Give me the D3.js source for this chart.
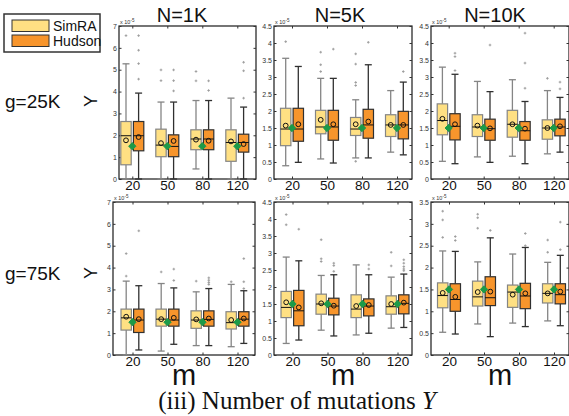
<!DOCTYPE html>
<html lang="en">
<head>
<meta charset="UTF-8">
<title>Number of mutations Y</title>
<script src="https://cdn.jsdelivr.net/npm/d3@7"></script>
<style>
  body { margin: 0; background: #fff; }
  svg { display: block; }
</style>
</head>
<body>
<script>

// categories and labels
var cats = ["20", "50", "80", "120"];
var colTitles = ["N=1K", "N=5K", "N=10K"];
var rowTitles = ["g=25K", "g=75K"];
var yMaxes = [[7, 4.5, 4.5], [7, 4.5, 3.5]];
var trueY = 1.5;   // green diamond

// box stats: [whiskerLow, q1, median, q3, whiskerHigh, mean] for m = 20, 50, 80, 120
var simraG25N1K  = [[0, 0.65, 1.98, 2.63, 5.27, 1.77], [0, 1.02, 1.55, 2.28, 3.52, 1.64], [0.46, 1.34, 1.83, 2.25, 3.59, 1.80], [0, 0.81, 1.67, 2.25, 3.70, 1.72]];
var hudsonG25N1K = [[0, 1.29, 1.98, 2.63, 3.93, 1.92], [0, 1.02, 1.49, 2.02, 3.52, 1.74], [0, 1.34, 1.83, 2.25, 3.59, 1.75], [0, 1.23, 1.67, 2.05, 3.29, 1.60]];
var simraG25N5K  = [[0.39, 0.98, 1.47, 2.08, 3.55, 1.57], [0.59, 1.33, 1.53, 2.02, 2.96, 1.74], [0.62, 1.28, 1.47, 1.81, 2.33, 1.61], [0.79, 1.25, 1.59, 1.89, 2.60, 1.59]];
var hudsonG25N5K = [[0.49, 1.11, 1.47, 2.08, 3.31, 1.61], [0.47, 1.14, 1.53, 2.02, 2.96, 1.61], [0.62, 1.20, 1.59, 2.05, 3.36, 1.69], [0.71, 1.18, 1.59, 1.99, 2.85, 1.59]];
var simraG25N10K  = [[0.52, 1.30, 1.72, 2.21, 3.29, 1.77], [0.65, 1.25, 1.53, 1.89, 2.87, 1.57], [0.67, 1.23, 1.61, 2.02, 2.92, 1.61], [0.74, 1.17, 1.50, 1.74, 2.60, 1.50]];
var hudsonG25N10K = [[0.45, 1.15, 1.55, 1.92, 3.08, 1.61], [0.49, 1.14, 1.48, 1.76, 2.57, 1.49], [0.45, 1.14, 1.42, 1.69, 2.28, 1.48], [0.79, 1.27, 1.53, 1.76, 2.40, 1.55]];
var simraG75N1K  = [[0, 1.14, 1.70, 2.10, 3.38, 1.75], [0.18, 1.32, 1.64, 2.10, 3.27, 1.64], [0.43, 1.22, 1.60, 2.02, 2.89, 1.63], [0.38, 1.19, 1.48, 1.98, 3.23, 1.60]];
var hudsonG75N1K = [[0.23, 1.03, 1.60, 2.10, 3.17, 1.64], [0.49, 1.32, 1.60, 2.10, 3.07, 1.70], [0.43, 1.32, 1.63, 2.02, 3.04, 1.67], [0.53, 1.32, 1.64, 1.98, 2.94, 1.67]];
var simraG75N5K  = [[0.34, 1.10, 1.40, 1.87, 2.88, 1.55], [0.73, 1.20, 1.50, 1.79, 2.34, 1.52], [0.59, 1.10, 1.35, 1.77, 2.65, 1.44], [0.79, 1.20, 1.42, 1.74, 2.29, 1.50]];
var hudsonG75N5K = [[0.44, 0.86, 1.30, 1.90, 2.77, 1.40], [0.56, 1.18, 1.44, 1.67, 2.36, 1.45], [0.64, 1.15, 1.44, 1.65, 2.36, 1.47], [0.81, 1.21, 1.52, 1.77, 2.38, 1.54]];
var simraG75N10K  = [[0.52, 1.08, 1.36, 1.65, 2.38, 1.42], [0.71, 1.12, 1.33, 1.69, 2.13, 1.44], [0.73, 1.09, 1.44, 1.60, 2.31, 1.38], [0.78, 1.19, 1.41, 1.63, 2.12, 1.41]];
var hudsonG75N10K = [[0.48, 1.00, 1.27, 1.63, 2.37, 1.33], [0.42, 1.13, 1.31, 1.79, 2.68, 1.45], [0.65, 1.06, 1.35, 1.64, 2.46, 1.41], [0.67, 1.17, 1.38, 1.63, 2.28, 1.45]];

// outliers for m = 20, 50, 80, 120
var simraOutG25N1K  = [[6.56], [4.99, 4.50], [4.92, 4.49], []];
var hudsonOutG25N1K = [[6.56, 5.89, 5.28, 4.57], [4.99, 4.50, 4.03], [4.49, 4.05], [5.34, 4.95, 3.70]];
var simraOutG25N5K  = [[4.04], [3.73, 3.36, 3.16], [3.68, 3.38, 2.84, 2.75, 0.52], []];
var hudsonOutG25N5K = [[], [3.82], [4.02], [3.16]];
var simraOutG25N10K  = [[], [], [], [2.96]];
var hudsonOutG25N10K = [[3.70, 3.60, 3.19], [3.94], [4.29, 3.41, 2.67], [2.85, 2.65]];
var simraOutG75N1K  = [[4.64, 3.61], [3.80], [3.38], [3.35]];
var hudsonOutG75N1K = [[5.68], [3.93, 3.41], [3.53, 3.42, 3.32, 3.23], [4.41, 3.35, 3.04]];
var simraOutG75N5K  = [[4.13, 3.83], [3.39, 2.83, 2.75], [], [3.02, 2.62]];
var hudsonOutG75N5K = [[3.70], [2.70, 2.63, 2.46], [2.65, 2.53], [2.80, 2.70, 2.60, 2.53, 2.48]];
var simraOutG75N10K  = [[3.29, 3.09, 2.69], [3.22, 3.14, 2.90], [], [2.63, 2.35]];
var hudsonOutG75N10K = [[2.71, 2.62], [2.85], [2.78, 2.50], [3.04, 2.41]];

var simraStats = [[simraG25N1K, simraG25N5K, simraG25N10K], [simraG75N1K, simraG75N5K, simraG75N10K]];
var hudsonStats = [[hudsonG25N1K, hudsonG25N5K, hudsonG25N10K], [hudsonG75N1K, hudsonG75N5K, hudsonG75N10K]];
var simraOut = [[simraOutG25N1K, simraOutG25N5K, simraOutG25N10K], [simraOutG75N1K, simraOutG75N5K, simraOutG75N10K]];
var hudsonOut = [[hudsonOutG25N1K, hudsonOutG25N5K, hudsonOutG25N10K], [hudsonOutG75N1K, hudsonOutG75N5K, hudsonOutG75N10K]];

// panel frames (pixels) and first category position
var frames = [
    [{x0: 119, x1: 256, y0: 26, y1: 179, c0: 132.3}, {x0: 274, x1: 412, y0: 26, y1: 179, c0: 292}, {x0: 431, x1: 569, y0: 26, y1: 179, c0: 448.7}],
    [{x0: 113, x1: 255, y0: 202, y1: 355, c0: 132.5}, {x0: 274, x1: 412, y0: 202, y1: 355, c0: 292.5}, {x0: 431, x1: 569, y0: 202, y1: 355, c0: 449}]
];
var catStep = 35;

var width = 569;
var height = 416;

var simraFill = "#ffe083", simraLine = "#858585";
var hudsonFill = "#f7952c", hudsonLine = "#303030";
var green = "#1c9a48";
var sans = "Liberation Sans, Arial, sans-serif";

var svg = d3.select("body")
    .append("svg")
    .attr("width", width)
    .attr("height", height);

svg.append("rect").attr("width", width).attr("height", height).attr("fill", "#fff");

function drawBoxes(g, x, y, stats, outs, dx, fill, line) {
    var bw = 10.4, cap = 3.5;
    cats.forEach(function (c, i) {
        var s = stats[i];
        var cx = x(c) + dx;
        var b = g.append("g");
        // whiskers
        b.append("line").attr("x1", cx).attr("x2", cx).attr("y1", y(s[0])).attr("y2", y(s[1]))
            .attr("stroke", line).attr("stroke-width", 1.3);
        b.append("line").attr("x1", cx).attr("x2", cx).attr("y1", y(s[3])).attr("y2", y(s[4]))
            .attr("stroke", line).attr("stroke-width", 1.3);
        b.append("line").attr("x1", cx - cap).attr("x2", cx + cap).attr("y1", y(s[4])).attr("y2", y(s[4]))
            .attr("stroke", line).attr("stroke-width", 1.3);
        b.append("line").attr("x1", cx - cap).attr("x2", cx + cap).attr("y1", y(s[0])).attr("y2", y(s[0]))
            .attr("stroke", line).attr("stroke-width", 1.3);
        // box
        b.append("rect")
            .attr("x", cx - bw / 2).attr("width", bw)
            .attr("y", y(s[3])).attr("height", y(s[1]) - y(s[3]))
            .attr("fill", fill).attr("stroke", line).attr("stroke-width", 1.2);
        // median
        b.append("line").attr("x1", cx - bw / 2).attr("x2", cx + bw / 2).attr("y1", y(s[2])).attr("y2", y(s[2]))
            .attr("stroke", "#111").attr("stroke-width", 1);
        // mean
        b.append("circle").attr("cx", cx).attr("cy", y(s[5])).attr("r", 2.4)
            .attr("fill", "none").attr("stroke", "#111").attr("stroke-width", 1);
        // outliers
        b.selectAll("path.out")
            .data(outs[i])
            .enter()
            .append("path")
            .attr("class", "out")
            .attr("d", function (v) {
                var py = y(v);
                return "M" + (cx - 1.3) + "," + py + "h2.6M" + cx + "," + (py - 1.3) + "v2.6";
            })
            .attr("stroke", "#9a9a9a").attr("stroke-width", 0.9);
    });
}

frames.forEach(function (row, r) {
    row.forEach(function (f, c) {
        var x = d3.scalePoint().domain(cats).range([f.c0, f.c0 + catStep * 3]);
        var y = d3.scaleLinear().domain([0, yMaxes[r][c]]).range([f.y1, f.y0]);
        var ticks = d3.range(0, yMaxes[r][c] + 0.001, c === 0 ? 1 : 0.5);

        var g = svg.append("g");

        // frame
        g.append("rect")
            .attr("x", f.x0).attr("y", f.y0)
            .attr("width", f.x1 - f.x0).attr("height", f.y1 - f.y0)
            .attr("fill", "#fff").attr("stroke", "#1a1a1a").attr("stroke-width", 1.2);

        // left axis with labels
        var ya = g.append("g").attr("transform", "translate(" + f.x0 + ",0)")
            .call(d3.axisLeft(y).tickValues(ticks).tickSizeInner(-2.5).tickSizeOuter(0).tickPadding(2)
                .tickFormat(function (d) { return d3.format("~g")(d); }));
        ya.select(".domain").remove();
        ya.selectAll("line").attr("stroke", "#333");
        ya.selectAll("text").attr("font-family", sans)
            .attr("font-size", "7px").attr("fill", "#333");

        // mirrored ticks on the right
        var yr = g.append("g").attr("transform", "translate(" + f.x1 + ",0)")
            .call(d3.axisRight(y).tickValues(ticks).tickSizeInner(-2.5).tickSizeOuter(0).tickFormat(""));
        yr.select(".domain").remove();
        yr.selectAll("line").attr("stroke", "#333");

        // bottom axis
        var xa = g.append("g").attr("transform", "translate(0," + f.y1 + ")")
            .call(d3.axisBottom(x).tickSizeInner(-2.5).tickSizeOuter(0).tickPadding(1));
        xa.select(".domain").remove();
        xa.selectAll("line").attr("stroke", "#333");
        xa.selectAll("text").attr("font-family", sans)
            .attr("font-size", "13.5px").attr("fill", "#111");

        // top ticks
        var xt = g.append("g").attr("transform", "translate(0," + f.y0 + ")")
            .call(d3.axisTop(x).tickSizeInner(-2.5).tickSizeOuter(0).tickFormat(""));
        xt.select(".domain").remove();
        xt.selectAll("line").attr("stroke", "#333");

        // exponent label
        var ex = g.append("text")
            .attr("x", f.x0 + 1).attr("y", f.y0 - 2)
            .attr("font-family", sans)
            .attr("font-size", "5.5px").attr("fill", "#333")
            .text("x 10");
        ex.append("tspan").attr("dy", -2.5).attr("font-size", "4.5px").text("-5");

        drawBoxes(g, x, y, simraStats[r][c], simraOut[r][c], -6.3, simraFill, simraLine);
        drawBoxes(g, x, y, hudsonStats[r][c], hudsonOut[r][c], 6.3, hudsonFill, hudsonLine);

        // true value
        g.selectAll("path.truth")
            .data(cats)
            .enter()
            .append("path")
            .attr("class", "truth")
            .attr("d", d3.symbol().type(d3.symbolDiamond2).size(34))
            .attr("transform", function (d) { return "translate(" + x(d) + "," + y(trueY) + ")"; })
            .attr("fill", green).attr("stroke", green).attr("stroke-width", 1);

        // column titles and x labels
        if (r === 0) {
            svg.append("text")
                .attr("x", [182, 340, 495][c]).attr("y", 22)
                .attr("text-anchor", "middle")
                .attr("font-family", sans)
                .attr("font-size", "20px").attr("fill", "#111")
                .text(colTitles[c]);
        } else {
            svg.append("text")
                .attr("x", (f.x0 + f.x1) / 2).attr("y", 385)
                .attr("text-anchor", "middle")
                .attr("font-family", sans)
                .attr("font-size", "29px").attr("fill", "#111")
                .text("m");
        }
    });

    // row labels
    var ly = r === 0 ? 101 : 273;
    svg.append("text")
        .attr("x", 5).attr("y", ly + 7)
        .attr("font-family", sans)
        .attr("font-size", "19px").attr("fill", "#111")
        .text(rowTitles[r]);
    svg.append("text")
        .attr("transform", "translate(" + 97 + "," + ly + ") rotate(-90)")
        .attr("text-anchor", "middle")
        .attr("font-family", sans)
        .attr("font-size", "18px").attr("fill", "#111")
        .text("Y");
});

// legend
var leg = svg.append("g");
leg.append("rect").attr("x", 4).attr("y", 14).attr("width", 96).attr("height", 38)
    .attr("fill", "#fff").attr("stroke", "#333").attr("stroke-width", 1.5);
[["SimRA", simraFill, 20], ["Hudson", hudsonFill, 35]].forEach(function (d) {
    leg.append("rect").attr("x", 12).attr("y", d[2]).attr("width", 37).attr("height", 11.5)
        .attr("fill", d[1]).attr("stroke", "#333").attr("stroke-width", 1);
    leg.append("text").attr("x", 53).attr("y", d[2] + 10.5)
        .attr("font-family", sans)
        .attr("font-size", "14px").attr("fill", "#111")
        .text(d[0]);
});

// caption
var cap = svg.append("text")
    .attr("x", 297).attr("y", 409)
    .attr("text-anchor", "middle")
    .attr("font-family", "Liberation Serif, Times New Roman, serif")
    .attr("font-size", "25px").attr("fill", "#111")
    .text("(iii) Number of mutations ");
cap.append("tspan").attr("font-style", "italic").text("Y");

</script>
</body>
</html>
